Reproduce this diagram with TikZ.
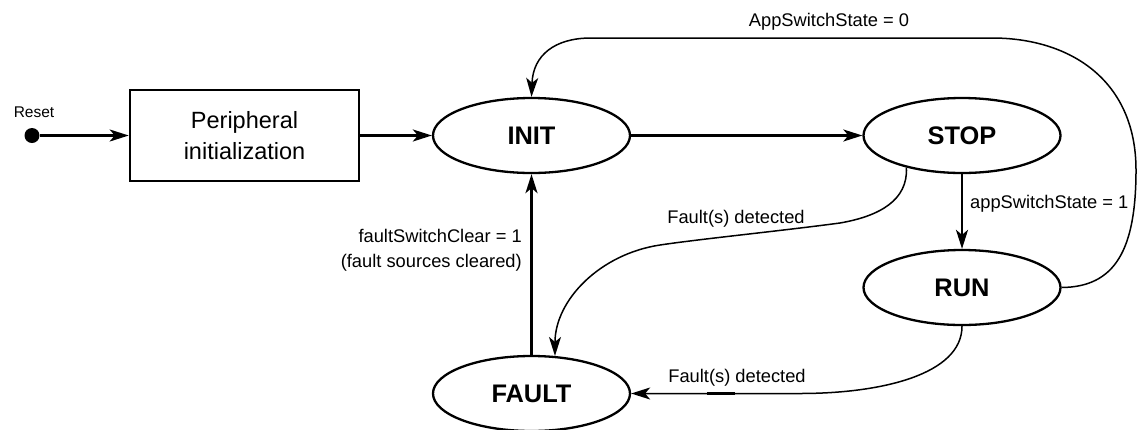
\documentclass[tikz,border=0pt]{standalone}
\usepackage{fontspec}
\setmainfont{Liberation Sans}
\usetikzlibrary{shapes.geometric,arrows.meta}
\begin{document}
\begin{tikzpicture}[x=1pt,y=-1pt,
  state/.style={ellipse,draw,line width=2.3pt,minimum width=197pt,minimum height=75pt,inner sep=0pt,font=\fontsize{25.4}{28}\selectfont\bfseries},
  thickarrow/.style={line width=2.3pt,-{Stealth[length=19pt,width=12pt,inset=5pt]}},
  thinarrow/.style={line width=1.5pt,-{Stealth[length=19pt,width=12pt,inset=5pt]}},
  lbl/.style={font=\fontsize{18.3}{22}\selectfont,inner sep=0pt}]
\useasboundingbox (0,0) rectangle (1137,429);

% nodes
\node[circle,fill,minimum size=15pt,inner sep=0pt] (dot) at (32,135.5) {};
\node[font=\fontsize{15.5}{18}\selectfont,anchor=base,inner sep=0pt] (resetlbl) at (34,117) {Reset};
\node[draw,line width=2.6pt,minimum width=229pt,minimum height=91pt,inner sep=0pt,align=center,font=\fontsize{23.5}{31}\selectfont] (periph) at (244.5,135.5) {Peripheral\\initialization};
\node[state] (init) at (531.5,135.5) {INIT};
\node[state] (stop) at (962,135.5) {STOP};
\node[state] (run) at (962,287.5) {RUN};
\node[state] (fault) at (531.5,393.5) {FAULT};

% labels
\node[lbl,anchor=base] (l0) at (829,26) {AppSwitchState = 0};
\node[lbl,anchor=base west] (l1) at (970,208) {appSwitchState = 1};
\node[lbl,anchor=base east] (l2) at (522,242) {faultSwitchClear = 1};
\node[lbl,anchor=base east] (l3) at (522,267) {(fault sources cleared)};
\node[lbl,anchor=base] (l4) at (736,223) {Fault(s) detected};
\node[lbl,anchor=base] (l5) at (737,382) {Fault(s) detected};

% straight connectors
\draw[thickarrow] (dot) -- (periph.west);
\draw[thickarrow] (periph.east) -- (init.west);
\draw[thickarrow] (init.east) -- (stop.west);
\draw[thickarrow] (stop.south) -- (run.north);
\draw[thickarrow] (fault.north) -- (init.south);

% curved connectors
\coordinate (tr) at (992,38);
\coordinate (tl) at (591,38);
\draw[thinarrow] (run.east) .. controls (1115,287) and (1136,250) .. (1136,170)
  .. controls (1136,80) and (1070,38) .. (tr) -- (tl)
  .. controls (555,38) and (533,55) .. (init.north);

\coordinate (f1) at (840,223);
\coordinate (f2) at (660,245);
\draw[thinarrow] (stop.210) .. controls (908,200) and (880,216) .. (f1)
  .. controls (780,231) and (700,239) .. (f2)
  .. controls (600,254) and (555,300) .. (fault.58);

\coordinate (f3) at (800,393.5);
\draw[thinarrow] (run.south) .. controls (962,375) and (880,393.5) .. (f3) -- (fault.east);
\draw[line width=2.6pt] (707,393.5) -- (735,393.5);
\end{tikzpicture}
\end{document}
